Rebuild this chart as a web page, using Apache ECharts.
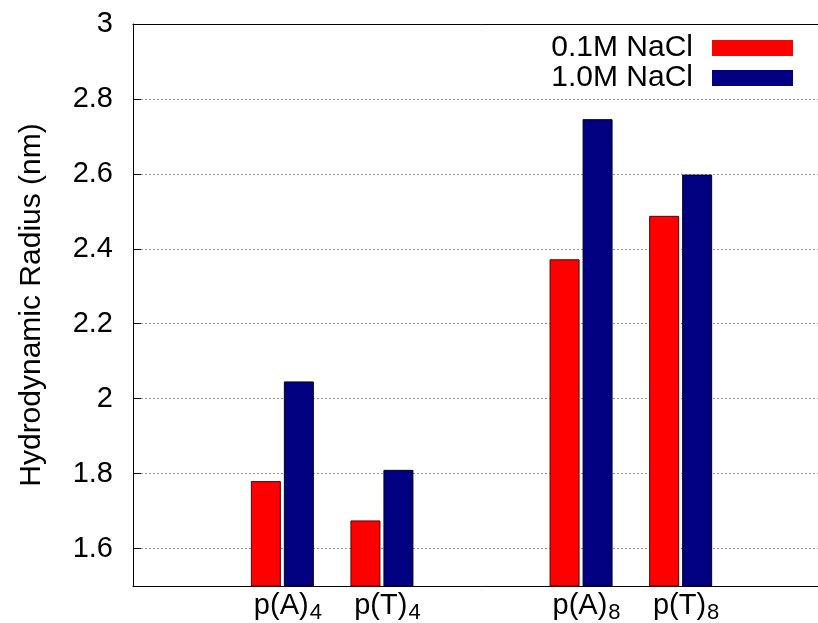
<!DOCTYPE html>
<html>
<head>
<meta charset="utf-8">
<script src="https://cdn.jsdelivr.net/npm/echarts@6/dist/echarts.min.js"></script>
<style>
  html, body { margin: 0; padding: 0; background: #fff; overflow: hidden; width: 818px; height: 623px; }
  /* plot frame continues a little past the right edge of the page */
  #chart { width: 830px; height: 623px; }
</style>
</head>
<body>
<div id="chart"></div>
<script>
// Sample slots along the x axis; empty strings are spacer slots.
// "_" separates the base name from its subscript.
const categories = ['', 'p(A)_4', 'p(T)_4', '', 'p(A)_8', 'p(T)_8', ''];

// Hydrodynamic radius (nm) per sample
const nacl01 = ['-', 1.78, 1.675, '-', 2.372, 2.488, '-'];
const nacl10 = ['-', 2.046, 1.81, '-', 2.746, 2.598, '-'];

const seriesNames = ['0.1M NaCl', '1.0M NaCl'];

// Labelled y ticks
const yTicks = [1.6, 1.8, 2, 2.2, 2.4, 2.6, 2.8, 3];

const FONT = '"Liberation Sans", Arial, sans-serif';

const chart = echarts.init(document.getElementById('chart'), null, { renderer: 'canvas' });

chart.setOption({
  animation: false,
  backgroundColor: '#fff',
  textStyle: { fontFamily: FONT, color: '#000' },
  grid: {
    left: 133, top: 24, bottom: 37, right: 0,
    outerBoundsMode: 'none',
    show: false
  },
  legend: {
    data: seriesNames,
    orient: 'vertical',
    right: 32,
    top: 28,
    align: 'right',
    itemWidth: 81,
    itemHeight: 16,
    itemGap: 0,
    icon: 'rect',
    itemStyle: { borderWidth: 0 },
    textStyle: { fontFamily: FONT, fontSize: 30, color: '#000', lineHeight: 24, padding: [0, 14, 0, 0] }
  },
  xAxis: [
    {
      type: 'category',
      data: categories,
      boundaryGap: true,
      axisLine: { show: true, lineStyle: { color: '#000', width: 1 } },
      axisTick: { show: false },
      splitLine: { show: false },
      axisLabel: {
        interval: 0,
        margin: 5,
        padding: [0, 0, 0, 11],
        formatter: function (v) {
          if (!v) return '';
          const parts = v.split('_');
          return '{m|' + parts[0] + '}{s|' + parts[1] + '}';
        },
        rich: {
          m: { fontFamily: FONT, fontSize: 29, lineHeight: 30, color: '#000', verticalAlign: 'top' },
          s: { fontFamily: FONT, fontSize: 22, lineHeight: 22, color: '#000', verticalAlign: 'top', padding: [11, 0, 0, 1] }
        }
      }
    },
    {
      // top edge of the plot frame
      type: 'category',
      data: categories,
      position: 'top',
      axisLine: { show: true, onZero: false, lineStyle: { color: '#000', width: 1 } },
      axisTick: { show: false },
      axisLabel: { show: false },
      splitLine: { show: false }
    }
  ],
  yAxis: {
    type: 'value',
    min: 1.5,
    max: 3,
    name: 'Hydrodynamic Radius (nm)',
    nameLocation: 'middle',
    nameGap: 86,
    nameTextStyle: { fontFamily: FONT, fontSize: 30, color: '#000' },
    axisLine: { show: true, lineStyle: { color: '#000', width: 1 } },
    axisTick: {
      show: true, inside: true, length: 8,
      customValues: yTicks,
      lineStyle: { color: '#000', width: 1 }
    },
    axisLabel: {
      customValues: yTicks,
      margin: 20,
      fontFamily: FONT, fontSize: 29, color: '#000'
    },
    splitLine: {
      show: true,
      lineStyle: { color: '#999', width: 1, type: [2, 2] }
    }
  },
  series: [
    {
      name: seriesNames[0],
      type: 'bar',
      data: nacl01,
      barWidth: 30,
      barGap: '10%',
      itemStyle: { color: '#ff0000', borderColor: '#5a0000', borderWidth: 1 }
    },
    {
      name: seriesNames[1],
      type: 'bar',
      data: nacl10,
      barWidth: 30,
      barGap: '10%',
      itemStyle: { color: '#000080', borderColor: '#000020', borderWidth: 1 }
    }
  ]
});
</script>
</body>
</html>
